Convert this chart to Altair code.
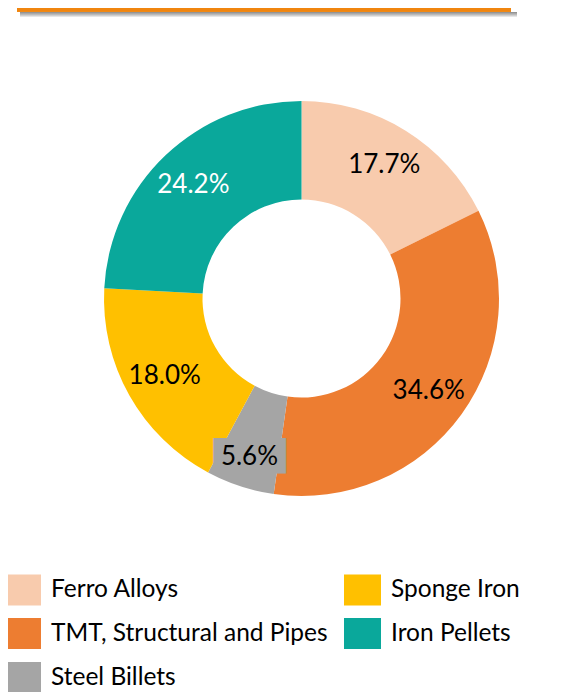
import altair as alt
import pandas as pd

categories = ["Ferro Alloys", "TMT, Structural and Pipes", "Steel Billets", "Sponge Iron", "Iron Pellets"]
values = [17.7, 34.6, 5.6, 18.0, 24.2]
labels = ["17.7%", "34.6%", "5.6%", "18.0%", "24.2%"]
slice_order = [0, 1, 2, 3, 4]

palette = {
    "Ferro Alloys": "#F8CBAD",
    "TMT, Structural and Pipes": "#ED7D31",
    "Steel Billets": "#A5A5A5",
    "Sponge Iron": "#FFC000",
    "Iron Pellets": "#0AA89B",
}

df = pd.DataFrame({"cat": categories, "val": values, "label": labels, "ord": slice_order})

W, H = 569, 684
CX, CY = 293.5, 290.5

base = alt.Chart(df).encode(
    theta=alt.Theta("val:Q", stack=True),
    order=alt.Order("ord:Q", sort="ascending"),
)

arcs = base.mark_arc(outerRadius=197.5, innerRadius=99).encode(
    x=alt.value(CX),
    y=alt.value(CY),
    color=alt.Color(
        "cat:N",
        scale=alt.Scale(domain=categories, range=[palette[c] for c in categories]),
        legend=alt.Legend(
            title=None,
            orient="none",
            legendX=-4,
            legendY=563,
            columns=2,
            direction="vertical",
            symbolType="M-1,-0.84L1,-0.84L1,0.84L-1,0.84Z",
            symbolSize=1369,
            symbolStrokeWidth=0,
            symbolOpacity=1,
            labelFont="Lato",
            labelFontSize=24.5,
            labelColor="#000000",
            labelLimit=500,
            labelOffset=10,
            rowPadding=9,
            columnPadding=16,
            padding=0,
        ),
    ),
)

is_small = alt.datum.cat == "Steel Billets"

box = base.mark_text(font="DejaVu Sans Mono", fontSize=30, align="center", baseline="middle").encode(
    x=alt.value(CX),
    y=alt.value(CY),
    radius=alt.value(167),
    text=alt.value("\u2588\u2588\u2588\u2588"),
    color=alt.value("#A5A5A5"),
    opacity=alt.condition(is_small, alt.value(1), alt.value(0)),
)

text_main = base.mark_text(font="Lato", fontSize=26, align="center", baseline="middle").encode(
    x=alt.value(CX),
    y=alt.value(CY),
    radius=alt.value(157),
    text="label:N",
    color=alt.condition(alt.datum.cat == "Iron Pellets", alt.value("#FFFFFF"), alt.value("#000000")),
    opacity=alt.condition(is_small, alt.value(0), alt.value(1)),
)

text_small = base.mark_text(font="Lato", fontSize=26, align="center", baseline="middle").encode(
    x=alt.value(CX),
    y=alt.value(CY),
    radius=alt.value(167),
    text="label:N",
    color=alt.value("#000000"),
    opacity=alt.condition(is_small, alt.value(1), alt.value(0)),
)

shadow = alt.layer(*[
    alt.Chart(df).mark_rule(color="#000000", opacity=op, strokeWidth=1.2).encode(
        x=alt.value(12), x2=alt.value(509), y=alt.value(yy)
    )
    for yy, op in [(4.5, 0.10), (5.5, 0.08), (6.5, 0.06), (7.5, 0.04), (8.5, 0.02)]
])

topline = alt.Chart(df).mark_rule(color="#F0850F", strokeWidth=3.5).encode(
    x=alt.value(9), x2=alt.value(503), y=alt.value(1.8)
)

chart = alt.layer(shadow, topline, arcs, box, text_main, text_small).properties(
    width=W, height=H, autosize=alt.AutoSizeParams(type="none"), padding=0
).configure_view(stroke=None)

chart.save("out.html", embed_options={"renderer": "svg", "actions": False})
